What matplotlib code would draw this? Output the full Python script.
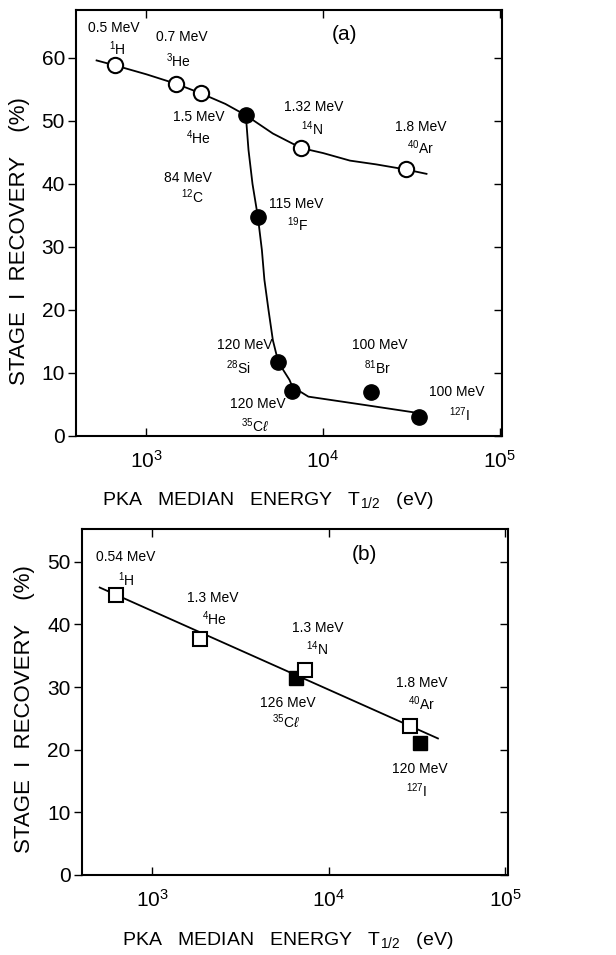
import matplotlib
matplotlib.use("Agg")
import matplotlib.pyplot as plt
from matplotlib.ticker import LogLocator, NullLocator, MultipleLocator

plt.rcParams["font.family"] = ["Liberation Sans", "DejaVu Sans"]
plt.rcParams["mathtext.fontset"] = "custom"
plt.rcParams["mathtext.rm"] = "Liberation Sans"
plt.rcParams["mathtext.it"] = "Liberation Sans:italic"
plt.rcParams["mathtext.bf"] = "Liberation Sans:bold"

# ---- panel (a) data ----
open_a_x = [668, 1472, 2027, 7515, 29300]
open_a_y = [58.8, 55.9, 54.4, 45.7, 42.3]
fill_a_x = [3656, 4276, 5585, 6710, 18600, 35000]
fill_a_y = [50.9, 34.8, 11.7, 7.1, 6.9, 3.0]

curve1_x = [523, 668, 1000, 1472, 2027, 2800, 3656, 5200, 7515, 10000, 14200, 20000, 29300, 38500]
curve1_y = [59.6, 58.8, 57.4, 55.9, 54.4, 52.7, 50.9, 48.0, 45.7, 44.9, 43.7, 43.1, 42.3, 41.6]
curve2_x = [3656, 3785, 3988, 4276, 4507, 4656, 4912, 5200, 5585, 6457, 6708, 8260, 17660, 32400, 35000]
curve2_y = [50.9, 45.4, 40.0, 34.8, 29.5, 24.8, 20.0, 15.2, 11.7, 8.9, 7.8, 6.24, 4.87, 3.76, 3.5]

labels_a = [
    ("0.5 MeV", 651, 64.8), ("$^{1}$H", 686, 61.4),
    ("0.7 MeV", 1597, 63.3), ("$^{3}$He", 1516, 59.6),
    ("1.5 MeV", 1967, 50.6), ("$^{4}$He", 1967, 47.3),
    ("84 MeV", 1727, 41.0), ("$^{12}$C", 1819, 38.0),
    ("115 MeV", 7040, 36.8), ("$^{19}$F", 7225, 33.6),
    ("1.32 MeV", 8890, 52.2), ("$^{14}$N", 8668, 48.7),
    ("1.8 MeV", 35790, 49.0), ("$^{40}$Ar", 35790, 45.7),
    ("120 MeV", 3625, 14.4), ("$^{28}$Si", 3310, 10.9),
    ("120 MeV", 4293, 5.0), ("$^{35}$C$\\ell$", 4129, 1.6),
    ("100 MeV", 20990, 14.4), ("$^{81}$Br", 20450, 10.9),
    ("100 MeV", 57150, 6.9), ("$^{127}$I", 59430, 3.4),
]

# ---- panel (b) data ----
open_b_x = [628, 1880, 7345, 28970]
open_b_y = [44.7, 37.7, 32.7, 23.8]
fill_b_x = [6500, 32970]
fill_b_y = [31.4, 21.1]
line_b_x = [506, 41500]
line_b_y = [45.9, 21.8]

labels_b = [
    ("0.54 MeV", 708, 50.8), ("$^{1}$H", 718, 47.2),
    ("1.3 MeV", 2194, 44.2), ("$^{4}$He", 2252, 40.9),
    ("1.3 MeV", 8690, 39.5), ("$^{14}$N", 8580, 36.1),
    ("126 MeV", 5890, 27.5), ("$^{35}$C$\\ell$", 5738, 24.4),
    ("1.8 MeV", 33550, 30.7), ("$^{40}$Ar", 33550, 27.3),
    ("120 MeV", 32690, 16.9), ("$^{127}$I", 31440, 13.5),
]

fig = plt.figure(figsize=(6.16, 9.55), dpi=100)
ax1 = fig.add_axes([0.1234, 0.5435, 0.6916, 0.446])
ax2 = fig.add_axes([0.1326, 0.0838, 0.6916, 0.362])

ylabel = "STAGE  I  RECOVERY    (%)"
xlabel = "PKA   MEDIAN   ENERGY   T$_{1/2}$   (eV)"


def style(ax, ytop):
    ax.set_xscale("log")
    ax.set_xlim(400, 1.03e5)
    ax.set_ylim(0, ytop)
    ax.xaxis.set_major_locator(LogLocator(base=10, numticks=10))
    ax.xaxis.set_minor_locator(NullLocator())
    ax.yaxis.set_major_locator(MultipleLocator(10))
    for s in ax.spines.values():
        s.set_linewidth(1.5)
    ax.tick_params(axis="x", direction="in", top=True, length=6, width=1,
                   labelsize=15, pad=10)
    ax.tick_params(axis="y", direction="out", left=True, right=True,
                   length=6, width=1, labelsize=15, pad=2)
    ax.set_xlabel(xlabel, fontsize=14)
    ax.set_ylabel(ylabel, fontsize=16)


style(ax1, 67.6)
style(ax2, 55.2)
ax1.xaxis.set_label_coords(0.451, -0.127)
ax1.yaxis.set_label_coords(-0.108, 0.458)
ax2.xaxis.set_label_coords(0.483, -0.159)
ax2.yaxis.set_label_coords(-0.11, 0.48)

# panel (a)
ax1.plot(curve1_x, curve1_y, color="black", lw=1.3, zorder=2)
ax1.plot(curve2_x, curve2_y, color="black", lw=1.3, zorder=2)
ax1.plot(open_a_x, open_a_y, "o", ms=11, mfc="white", mec="black", mew=1.5, zorder=3)
ax1.plot(fill_a_x, fill_a_y, "o", ms=11, mfc="black", mec="black", zorder=3)
for txt, x, y in labels_a:
    ax1.text(x, y, txt, ha="center", va="center", fontsize=10)
ax1.text(13310, 63.7, "(a)", ha="center", va="center", fontsize=15)

# panel (b)
ax2.plot(line_b_x, line_b_y, color="black", lw=1.3, zorder=2)
ax2.plot(fill_b_x, fill_b_y, "s", ms=9.5, mfc="black", mec="black", zorder=3)
ax2.plot(open_b_x, open_b_y, "s", ms=9.5, mfc="white", mec="black", mew=1.5, zorder=4)
for txt, x, y in labels_b:
    ax2.text(x, y, txt, ha="center", va="center", fontsize=10)
ax2.text(16010, 51.1, "(b)", ha="center", va="center", fontsize=15)

# right-hand y ticks point inward, left ones outward
fig.canvas.draw()
for ax in (ax1, ax2):
    for t in ax.yaxis.get_major_ticks():
        t.tick2line.set_marker(0)

fig.savefig("out.png", dpi=100)
